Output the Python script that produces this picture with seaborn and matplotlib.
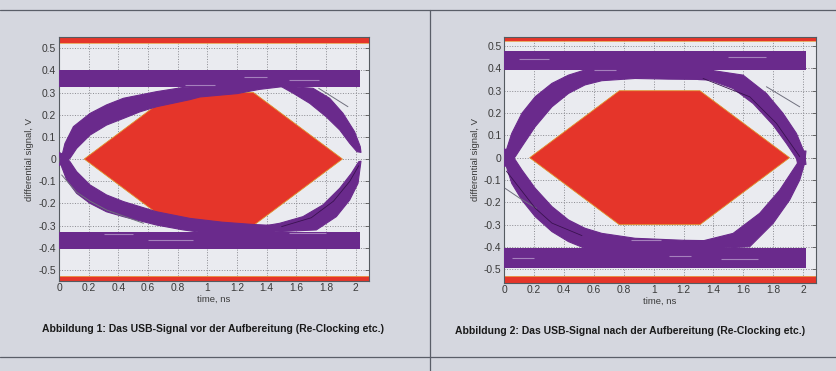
import numpy as np
import pandas as pd
import matplotlib
matplotlib.use("Agg")
import matplotlib.pyplot as plt
import seaborn as sns

# ---- data (time in ns, signal in V) ----
x_ticks = [0, 0.2, 0.4, 0.6, 0.8, 1, 1.2, 1.4, 1.6, 1.8, 2]
x_tick_labels = ["0", "0.2", "0.4", "0.6", "0.8", "1", "1.2", "1.4", "1.6", "1.8", "2"]
y_ticks = [0.5, 0.4, 0.3, 0.2, 0.1, 0, -0.1, -0.2, -0.3, -0.4, -0.5]
y_tick_labels = ["0.5", "0.4", "0.3", "0.2", "0.1", "0", "-0.1", "-0.2", "-0.3", "-0.4", "-0.5"]

# USB eye mask (hexagon), same for both plots
mask_t = [0.17, 0.77, 1.31, 1.91, 1.31, 0.77]
mask_v = [0.0, 0.30, 0.30, 0.0, -0.30, -0.30]

captions = ["Abbildung 1: Das USB-Signal vor der Aufbereitung (Re-Clocking etc.)",
            "Abbildung 2: Das USB-Signal nach der Aufbereitung (Re-Clocking etc.)"]

# plot 1: before re-clocking (outline of each trace bundle: outer edge, then inner edge back)
vor_top_band = (0.326, 0.40)
vor_bot_band = (-0.405, -0.33)
vor_band_end = 2.03
vor_ul_t = [0.0, 0.018, 0.04, 0.097, 0.21, 0.32, 0.434, 0.658, 0.838, 1.0, 1.5,
            1.5, 1.35, 1.2, 0.95, 0.883, 0.658, 0.546, 0.434, 0.32, 0.209, 0.119, 0.074, 0.03]
vor_ul_v = [-0.03, 0.01, 0.07, 0.146, 0.206, 0.244, 0.274, 0.304, 0.323, 0.33, 0.33,
            0.326, 0.314, 0.295, 0.28, 0.268, 0.236, 0.213, 0.183, 0.153, 0.108, 0.048, 0.003, -0.02]
vor_ll_t = [0.0, 0.018, 0.052, 0.119, 0.209, 0.32, 0.434, 0.658, 0.838, 1.0, 1.45,
            1.45, 1.3, 1.1, 0.883, 0.658, 0.546, 0.434, 0.32, 0.209, 0.119, 0.074, 0.03]
vor_ll_v = [0.03, -0.035, -0.095, -0.155, -0.2, -0.238, -0.26, -0.298, -0.32, -0.335, -0.335,
            -0.30, -0.295, -0.285, -0.268, -0.238, -0.215, -0.192, -0.162, -0.117, -0.057, -0.012, 0.02]
vor_ur_t = [1.5, 1.712, 1.824, 1.914, 1.992, 2.03, 2.035,
            2.008, 1.959, 1.892, 1.80, 1.69, 1.58, 1.5]
vor_ur_v = [0.33, 0.319, 0.274, 0.206, 0.123, 0.056, 0.03,
            0.033, 0.071, 0.131, 0.191, 0.251, 0.296, 0.326]
vor_lr_t = [1.4, 1.734, 1.869, 1.959, 2.015, 2.03, 2.035,
            2.02, 1.97, 1.892, 1.779, 1.644, 1.487, 1.4]
vor_lr_v = [-0.33, -0.32, -0.26, -0.185, -0.11, -0.035, -0.01,
            -0.012, -0.065, -0.132, -0.207, -0.26, -0.29, -0.30]
vor_gray1_t = [0.018, 0.119, 0.209, 0.32, 0.57]
vor_gray1_v = [-0.072, -0.15, -0.19, -0.23, -0.29]
vor_gray2_t = [1.75, 1.947]
vor_gray2_v = [0.319, 0.236]
vor_dark_t = [1.5, 1.7, 1.85, 1.96, 2.02]
vor_dark_v = [-0.305, -0.265, -0.19, -0.1, -0.03]
# light streaks inside the bundles: (t start, t end, v)
vor_streak_t0 = [0.85, 1.25, 1.55, 0.6, 1.55, 0.3]
vor_streak_t1 = [1.05, 1.4, 1.75, 0.9, 1.8, 0.5]
vor_streak_v = [0.335, 0.37, 0.355, -0.365, -0.335, -0.34]

# plot 2: after re-clocking
nach_top_band = (0.393, 0.48)
nach_bot_band = (-0.495, -0.405)
nach_band_end = 2.02
nach_ul_t = [0.0, 0.007, 0.05, 0.118, 0.207, 0.319, 0.43, 0.54, 0.7, 1.4,
             1.4, 1.1, 0.876, 0.653, 0.54, 0.43, 0.319, 0.207, 0.118, 0.074, 0.03]
nach_ul_v = [-0.04, 0.02, 0.109, 0.199, 0.273, 0.333, 0.37, 0.393, 0.40, 0.40,
             0.35, 0.352, 0.355, 0.345, 0.326, 0.288, 0.228, 0.139, 0.05, 0.005, -0.03]
nach_ll_t = [0.0, 0.007, 0.05, 0.118, 0.207, 0.319, 0.43, 0.54, 0.7, 1.4,
             1.4, 1.2, 0.876, 0.653, 0.54, 0.43, 0.319, 0.207, 0.118, 0.074, 0.03]
nach_ll_v = [0.04, -0.025, -0.115, -0.19, -0.264, -0.331, -0.376, -0.406, -0.41, -0.41,
             -0.372, -0.37, -0.361, -0.339, -0.316, -0.279, -0.219, -0.137, -0.055, -0.01, 0.03]
nach_ur_t = [1.3, 1.599, 1.755, 1.866, 1.956, 2.011, 2.02,
             1.965, 1.956, 1.889, 1.8, 1.666, 1.532, 1.376, 1.3]
nach_ur_v = [0.40, 0.37, 0.288, 0.199, 0.109, 0.02, -0.03,
             -0.03, -0.003, 0.064, 0.146, 0.243, 0.31, 0.348, 0.35]
nach_lr_t = [1.3, 1.643, 1.8, 1.911, 1.978, 2.011, 2.02,
             1.975, 1.978, 1.933, 1.844, 1.71, 1.532, 1.309, 1.2]
nach_lr_v = [-0.41, -0.399, -0.294, -0.189, -0.1, -0.025, 0.03,
             0.03, -0.01, -0.055, -0.145, -0.249, -0.339, -0.376, -0.372]
nach_gray1_t = [0.005, 0.1, 0.216]
nach_gray1_v = [-0.137, -0.18, -0.227]
nach_gray2_t = [1.755, 1.978]
nach_gray2_v = [0.318, 0.228]
nach_dark1_t = [0.014, 0.207, 0.319, 0.52]
nach_dark1_v = [-0.06, -0.226, -0.293, -0.349]
nach_dark2_t = [1.331, 1.643, 1.822, 1.978]
nach_dark2_v = [0.355, 0.273, 0.154, 0.005]
nach_streak_t0 = [0.1, 0.6, 1.5, 0.05, 1.1, 1.45, 0.85]
nach_streak_t1 = [0.3, 0.75, 1.75, 0.2, 1.25, 1.7, 1.05]
nach_streak_v = [0.44, 0.395, 0.45, -0.45, -0.44, -0.455, -0.37]

purple = "#6a2a8c"
dark = "#3a1250"
streak = "#a580bd"
red = "#e5352a"

sns.set_theme(style="white")
plt.rcParams["font.family"] = ["Liberation Sans", "DejaVu Sans"]

fig = plt.figure(figsize=(8.37, 3.71), dpi=100, facecolor="#d5d7df")
ax1 = fig.add_axes([0.0705, 0.2434, 0.370, 0.656])
ax2 = fig.add_axes([0.6025, 0.238, 0.3724, 0.663])


def draw_eye(ax, top_band, bot_band, band_end, bundles, grays, darks, streaks, ylim):
    ax.set_facecolor("#eaebf0")
    ax.set_xlim(0, 2.087)
    ax.set_ylim(*ylim)
    # mask
    ax.fill(mask_t, mask_v, color=red, zorder=2, lw=0.6, ec="#e0902a")
    # red limit bars
    ax.axhspan(0.522, ylim[1], color=red, zorder=2, lw=0)
    ax.axhline(0.522, color="#e8a050", lw=0.6, zorder=2)
    ax.axhspan(ylim[0], -0.528, color=red, zorder=2, lw=0)
    ax.axhline(-0.528, color="#e8a050", lw=0.6, zorder=2)
    # signal traces
    ax.fill_between([0, band_end], top_band[0], top_band[1], color=purple, lw=0, zorder=3)
    ax.fill_between([0, band_end], bot_band[0], bot_band[1], color=purple, lw=0, zorder=3)
    for t, v in bundles:
        ax.fill(t, v, color=purple, lw=0.8, ec=purple, joinstyle="round", zorder=3)
    ax.hlines(streaks[2], streaks[0], streaks[1], color=streak, lw=0.8, zorder=4)
    for (t, v), col, w in [(g, "#70707e", 0.7) for g in grays] + [(d, dark, 0.6) for d in darks]:
        d = pd.DataFrame({"t": t, "v": v})
        sns.lineplot(data=d, x="t", y="v", ax=ax, color=col, lw=w, zorder=4,
                     sort=False, estimator=None)
    ax.set_xticks(x_ticks)
    ax.set_xticklabels(x_tick_labels)
    ax.set_yticks(y_ticks)
    ax.set_yticklabels(y_tick_labels)
    ax.grid(True, ls=":", color="#8a8a90", lw=0.7, zorder=1)
    ax.set_axisbelow(True)
    ax.tick_params(direction="in", length=3, width=0.6, top=True, right=True,
                   labelsize=7.4, labelcolor="#3a3a3a", color="#555555", pad=2)
    for s in ax.spines.values():
        s.set_color("#555a60")
        s.set_linewidth(0.8)
    ax.set_xlabel("time, ns", fontsize=6.8, color="#3a3a3a", labelpad=1)
    ax.set_ylabel("differential signal, V", fontsize=6.8, color="#3a3a3a", labelpad=3)


draw_eye(ax1, vor_top_band, vor_bot_band, vor_band_end,
         [(vor_ul_t, vor_ul_v), (vor_ll_t, vor_ll_v), (vor_ur_t, vor_ur_v), (vor_lr_t, vor_lr_v)],
         [(vor_gray1_t, vor_gray1_v), (vor_gray2_t, vor_gray2_v)],
         [(vor_dark_t, vor_dark_v)],
         (vor_streak_t0, vor_streak_t1, vor_streak_v), (-0.549, 0.549))
draw_eye(ax2, nach_top_band, nach_bot_band, nach_band_end,
         [(nach_ul_t, nach_ul_v), (nach_ll_t, nach_ll_v), (nach_ur_t, nach_ur_v), (nach_lr_t, nach_lr_v)],
         [(nach_gray1_t, nach_gray1_v), (nach_gray2_t, nach_gray2_v)],
         [(nach_dark1_t, nach_dark1_v), (nach_dark2_t, nach_dark2_v)],
         (nach_streak_t0, nach_streak_t1, nach_streak_v), (-0.56, 0.542))

# page frame lines
line_col = "#5a5e68"
fig.add_artist(plt.Line2D([0, 1], [0.973, 0.973], color=line_col, lw=0.9))
fig.add_artist(plt.Line2D([0, 1], [0.0364, 0.0364], color=line_col, lw=0.9))
fig.add_artist(plt.Line2D([0.5137, 0.5137], [0, 0.973], color=line_col, lw=0.9))

fig.text(0.2545, 0.113, captions[0], ha="center", va="center", fontsize=7.5,
         fontweight="bold", color="#1a1a1a")
fig.text(0.7527, 0.109, captions[1], ha="center", va="center", fontsize=7.5,
         fontweight="bold", color="#1a1a1a")

fig.savefig("out.png", dpi=100, facecolor=fig.get_facecolor())
